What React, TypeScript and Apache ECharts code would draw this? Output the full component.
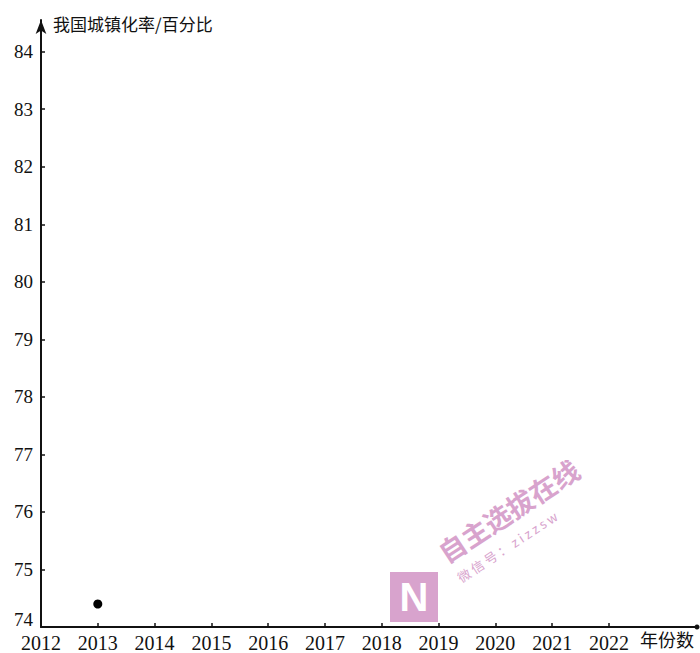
import React, { useEffect, useRef } from "react";
import * as echarts from "echarts";

const years = [2012, 2013, 2014, 2015, 2016, 2017, 2018, 2019, 2020, 2021, 2022];
const yTicks = [74, 75, 76, 77, 78, 79, 80, 81, 82, 83, 84];
const pointYears = [2013];
const pointRates = [74.4];
const yName = "我国城镇化率/百分比";
const xName = "年份数";

export default function App() {
  const ref = useRef<HTMLDivElement>(null);
  useEffect(() => {
    if (!ref.current) return;
    const chart = echarts.init(ref.current, null, { renderer: "svg" });
    const serif = "'Liberation Serif', 'Noto Sans CJK SC', serif";
    const pink = "#d8a3cd";
    chart.setOption({
      animation: false,
      backgroundColor: "#ffffff",
      grid: { left: 41, right: 3, top: 20, bottom: 26, containLabel: false },
      xAxis: {
        type: "value",
        min: 2012,
        max: 2023.55,
        interval: 1,
        name: xName,
        nameLocation: "end",
        nameGap: -3,
        nameTextStyle: {
          fontFamily: "'Noto Sans CJK SC', sans-serif",
          fontSize: 18,
          color: "#111",
          align: "right",
          verticalAlign: "top",
          padding: [3, 0, 0, 0],
        },
        axisLine: {
          show: true,
          lineStyle: { color: "#111", width: 2 },
          symbol: ["none", "circle"],
          symbolSize: [5, 5],
        },
        axisTick: { show: true, inside: true, length: 4, lineStyle: { color: "#111", width: 1.5 }, customValues: years.slice(1) },
        axisLabel: {
          customValues: years,
          formatter: (v: number) => String(v),
          fontFamily: serif,
          fontSize: 20,
          color: "#111",
          margin: 6,
        },
        splitLine: { show: false },
      },
      yAxis: {
        type: "value",
        min: 74,
        max: 84.55,
        interval: 1,
        name: yName,
        nameLocation: "end",
        nameGap: -3,
        nameTextStyle: {
          fontFamily: "'Noto Sans CJK SC', sans-serif",
          fontSize: 17,
          color: "#111",
          align: "left",
          verticalAlign: "middle",
          padding: [0, 0, 0, 12],
        },
        axisLine: {
          show: true,
          lineStyle: { color: "#111", width: 2 },
          symbol: ["none", "arrow"],
          symbolSize: [8, 14],
        },
        axisTick: { show: true, inside: true, length: 4, lineStyle: { color: "#111", width: 1.5 }, customValues: yTicks.slice(1) },
        axisLabel: {
          customValues: yTicks,
          formatter: (v: number) => (v === yTicks[0] ? "{low|" + v + "}" : String(v)),
          rich: { low: { padding: [0, 0, 16, 0], fontFamily: serif, fontSize: 19, color: "#111" } },
          fontFamily: serif,
          fontSize: 19,
          color: "#111",
          margin: 8,
          verticalAlign: "middle",
        },
        splitLine: { show: false },
      },
      series: [
        {
          type: "scatter",
          data: pointYears.map((y, i) => [y, pointRates[i]]),
          symbol: "circle",
          symbolSize: 9,
          itemStyle: { color: "#000", opacity: 1 },
        },
      ],
      graphic: [
        {
          type: "group",
          silent: true,
          children: [
            {
              type: "rect",
              shape: { x: 390, y: 572, width: 48, height: 50 },
              style: { fill: pink },
            },
            {
              type: "text",
              x: 414,
              y: 597,
              style: {
                text: "N",
                fill: "#ffffff",
                font: "bold 40px 'Liberation Sans', sans-serif",
                align: "center",
                verticalAlign: "middle",
              },
            },
            {
              type: "text",
              x: 448,
              y: 566,
              rotation: 0.58,
              style: {
                text: "自主选拔在线",
                fill: pink,
                font: "bold 27px 'Noto Sans CJK SC', sans-serif",
                align: "left",
                verticalAlign: "bottom",
              },
            },
            {
              type: "text",
              x: 462,
              y: 584,
              rotation: 0.58,
              style: {
                text: "微 信 号 ： z i z z s w",
                fill: pink,
                font: "13px 'Noto Sans CJK SC', sans-serif",
                align: "left",
                verticalAlign: "bottom",
              },
            },
          ],
        },
      ],
    });
    return () => chart.dispose();
  }, []);
  return <div ref={ref} style={{ position: "absolute", left: 0, top: 0, width: 700, height: 653 }} />;
}
